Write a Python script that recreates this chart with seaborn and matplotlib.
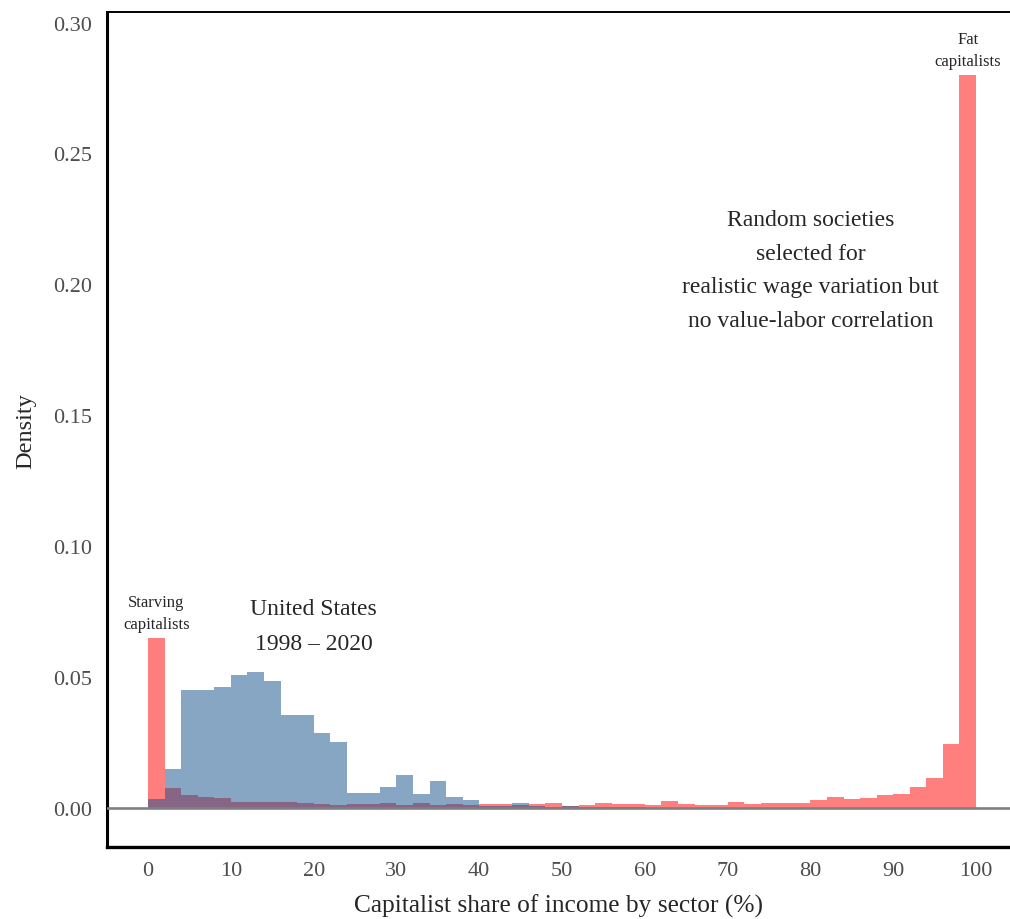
import numpy as np
import pandas as pd
import matplotlib
matplotlib.use("Agg")
import matplotlib.pyplot as plt
import seaborn as sns

# bins of width 2, 0..100 (left edges)
bin_left = list(range(0, 100, 2))

# random societies (density per bin)
random_density = [
    0.0650, 0.0076, 0.0051, 0.0041, 0.0038, 0.0023, 0.0023, 0.0023, 0.0023, 0.0018,
    0.0015, 0.0011, 0.0015, 0.0015, 0.0018, 0.0012, 0.0018, 0.0013, 0.0015, 0.0013,
    0.0015, 0.0015, 0.0013, 0.0015, 0.0019, 0.0009, 0.0013, 0.0019, 0.0015, 0.0017,
    0.0013, 0.0029, 0.0015, 0.0011, 0.0013, 0.0022, 0.0015, 0.0019, 0.0020, 0.0021,
    0.0030, 0.0043, 0.0035, 0.0040, 0.0049, 0.0055, 0.0081, 0.0117, 0.0245, 0.2800,
]

# United States 1998-2020 (density per bin)
us_density = [
    0.0034, 0.0148, 0.0450, 0.0450, 0.0463, 0.0510, 0.0520, 0.0486, 0.0357, 0.0357,
    0.0288, 0.0253, 0.0057, 0.0057, 0.0080, 0.0125, 0.0055, 0.0102, 0.0043, 0.0032,
    0.0008, 0.0008, 0.0021, 0.0008, 0.0005, 0.0010, 0.0004, 0.0003, 0.0003, 0.0003,
    0, 0, 0, 0, 0, 0, 0, 0, 0, 0,
    0, 0, 0, 0, 0, 0, 0, 0, 0, 0,
]

x_ticks = [0, 10, 20, 30, 40, 50, 60, 70, 80, 90, 100]
y_ticks = [0.00, 0.05, 0.10, 0.15, 0.20, 0.25, 0.30]

df = pd.DataFrame({
    "mid": [b + 1 for b in bin_left],
    "random": random_density,
    "us": us_density,
})

sns.set_style("white")
plt.rcParams["font.family"] = ["Liberation Serif", "DejaVu Serif"]

fig = plt.figure(figsize=(10.1, 9.2), dpi=100)
ax = fig.add_axes([0.106, 0.0783, 0.894, 0.9072])

sns.histplot(data=df, x="mid", weights="random", binwidth=2, binrange=(0, 100),
             stat="count", color="red", alpha=0.5, linewidth=0, ax=ax)
sns.histplot(data=df, x="mid", weights="us", binwidth=2, binrange=(0, 100),
             stat="count", color="#104E8B", alpha=0.5, linewidth=0, ax=ax)

ax.axhline(0, color="#808080", lw=1.9, zorder=3)

ax.set_xlim(-4.95, 104.1)
ax.set_ylim(-0.0148, 0.3039)
ax.set_xticks(x_ticks)
ax.set_yticks(y_ticks)
ax.set_yticklabels([f"{v:.2f}" for v in y_ticks])
ax.tick_params(direction="in", length=4, width=2, color="#333333",
               labelcolor="#4d4d4d", labelsize=16)
ax.tick_params(axis="y", pad=11)
ax.tick_params(axis="x", pad=10)

for side in ["left", "bottom", "top"]:
    ax.spines[side].set_visible(True)
    ax.spines[side].set_color("black")
ax.spines["left"].set_linewidth(2.2)
ax.spines["bottom"].set_linewidth(2.4)
ax.spines["top"].set_linewidth(1.4)
ax.spines["right"].set_visible(False)

ax.set_xlabel("Capitalist share of income by sector (%)", fontsize=18.3, labelpad=10)
ax.set_ylabel("Density", fontsize=17.5, labelpad=12)

ax.text(80, 0.2055, "Random societies\nselected for\nrealistic wage variation but\nno value-labor correlation",
        ha="center", va="center", fontsize=17, linespacing=1.8)
ax.text(20, 0.0695, "United States\n1998 \u2013 2020", ha="center", va="center",
        fontsize=17, linespacing=1.85)
ax.text(1, 0.0745, "Starving\ncapitalists", ha="center", va="center", fontsize=12, linespacing=1.55)
ax.text(99, 0.2895, "Fat\ncapitalists", ha="center", va="center", fontsize=12, linespacing=1.55)

fig.savefig("out.png", dpi=100)
